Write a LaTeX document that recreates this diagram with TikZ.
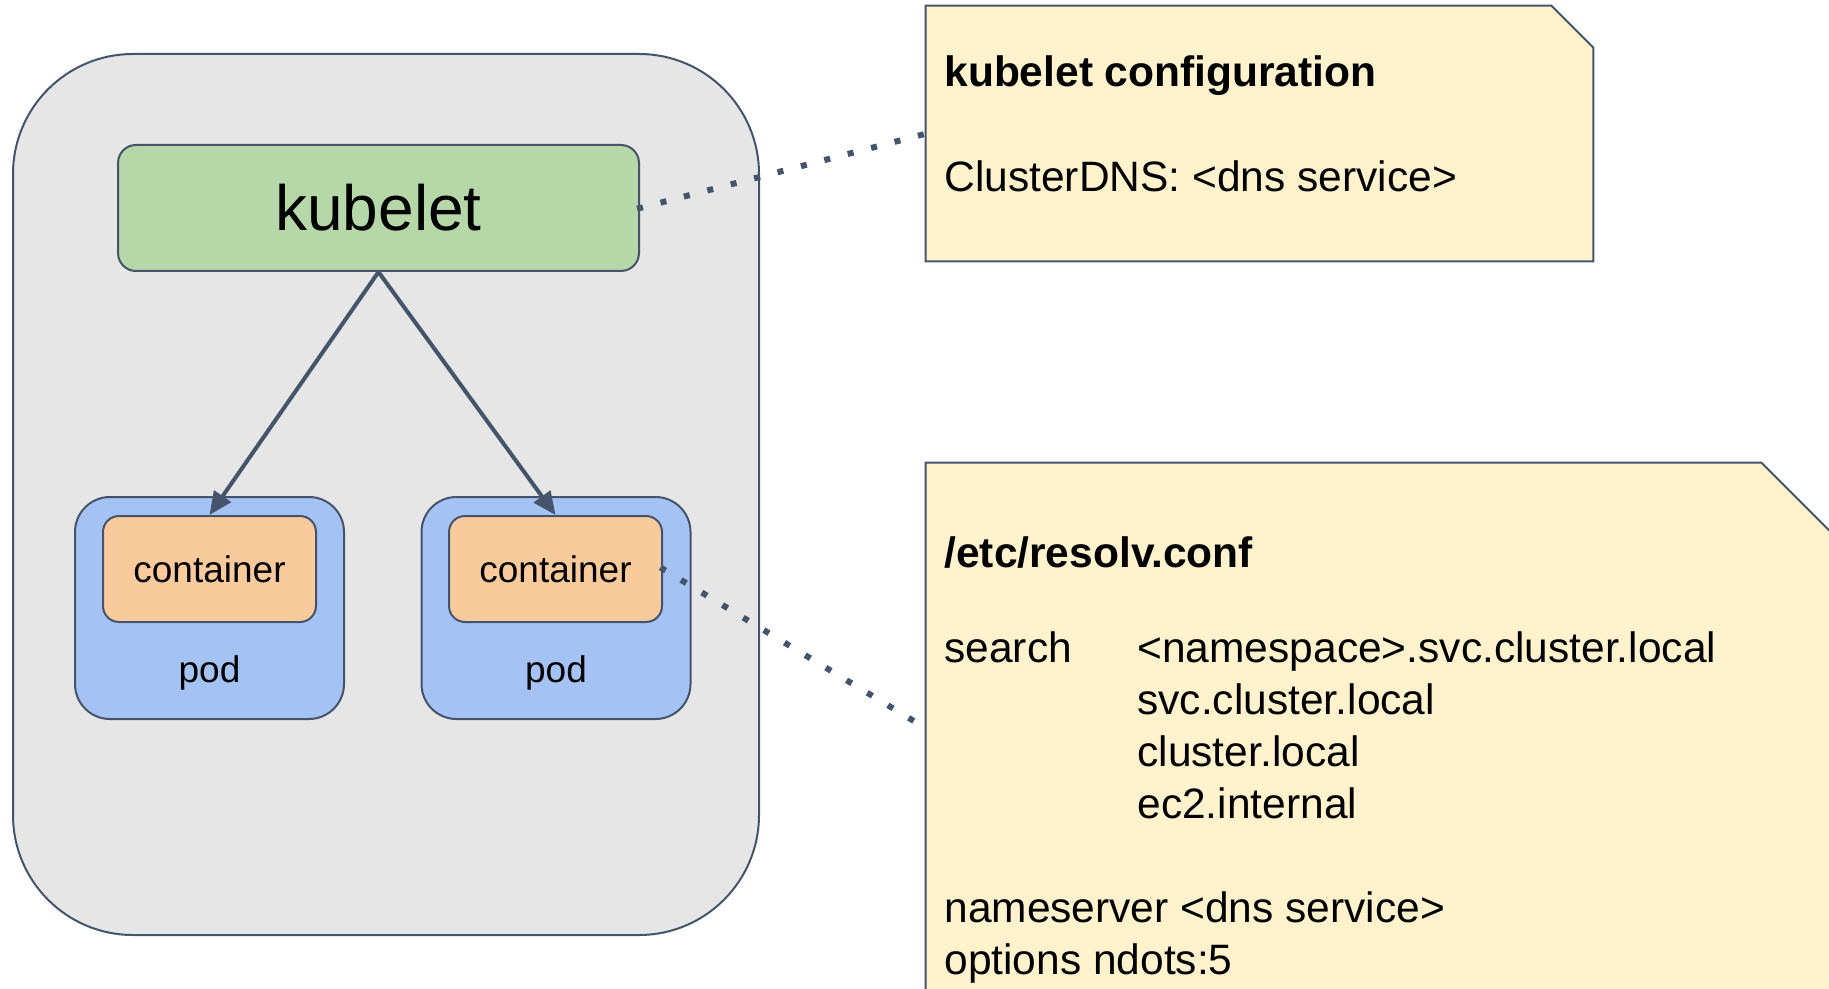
\documentclass[tikz,border=0pt]{standalone}
\usepackage{fontspec}
\setmainfont{Liberation Sans}
\usetikzlibrary{arrows.meta}

\definecolor{edgeslate}{HTML}{44546A}
\definecolor{hostgray}{HTML}{E6E6E6}
\definecolor{kubegreen}{HTML}{B6D7A8}
\definecolor{podblue}{HTML}{A4C2F4}
\definecolor{ctrorange}{HTML}{F9CB9C}
\definecolor{noteyellow}{HTML}{FFF2CC}

\begin{document}
\begin{tikzpicture}[
  x=0.5pt, y=-0.5pt,
  shapebase/.style={draw=edgeslate, line width=1pt, inner sep=0pt},
  hostshape/.style={shapebase, fill=hostgray, rounded corners=60pt,
    minimum width=373pt, minimum height=440.5pt},
  kubeshape/.style={shapebase, fill=kubegreen, rounded corners=9pt,
    minimum width=260.5pt, minimum height=63pt,
    font=\fontsize{32}{38}\selectfont, text height=22.9pt, text depth=0pt},
  podshape/.style={shapebase, fill=podblue, rounded corners=17.5pt,
    minimum width=134.5pt, minimum height=111pt},
  ctrshape/.style={shapebase, fill=ctrorange, rounded corners=8pt,
    minimum width=106.5pt, minimum height=53pt,
    font=\fontsize{18.5}{22}\selectfont, text height=13.2pt, text depth=0pt},
  podlabel/.style={font=\fontsize{18.5}{22}\selectfont, anchor=base, inner sep=0pt},
  noteanchor/.style={inner sep=0pt, draw=none, fill=none},
  noteframe/.style={draw=edgeslate, line width=1pt, fill=noteyellow, line join=miter},
  notetext/.style={font=\fontsize{21.25}{26}\selectfont, anchor=base west, inner sep=0pt},
  ownerlink/.style={draw=edgeslate, line width=2pt,
    -{Triangle[length=11.5pt,width=10pt]}},
  dotlink/.style={draw=edgeslate, line width=3pt, line cap=rect,
    dash pattern=on 0.01pt off 12.08pt}
]
\useasboundingbox (0,0) rectangle (1829,989);
\clip (0,0) rectangle (1829,989);

% node with kubelet and two pods
\node[hostshape] (host) at (386,494.5) {};
\node[kubeshape] (kubelet) at (378.5,208) {kubelet};

\node[podshape] (pod1) at (209.5,608) {};
\node[ctrshape] (ctr1) at (209.5,569) {container};
\node[podlabel] (podlbl1) at (209.5,682) {pod};

\node[podshape] (pod2) at (556,608) {};
\node[ctrshape] (ctr2) at (555.5,569) {container};
\node[podlabel] (podlbl2) at (556,682) {pod};

\draw[ownerlink] (kubelet.south) -- (ctr1.north);
\draw[ownerlink] (kubelet.south) -- (ctr2.north);

% kubelet configuration note
\node[noteanchor, minimum width=333.5pt, minimum height=127.5pt] (cfg) at (1259.5,133.5) {};
\path[noteframe] (cfg.south west) -- (cfg.north west)
  -- ([xshift=-21pt]cfg.north east) -- ([yshift=-21pt]cfg.north east)
  -- (cfg.south east) -- cycle;
\node[notetext, font=\fontsize{21.25}{26}\selectfont\bfseries] (cfgtitle) at (944,87) {kubelet configuration};
\node[notetext] (cfgdns) at (944,192) {ClusterDNS: <dns service>};

% resolv.conf note
\node[noteanchor, minimum width=487pt, minimum height=293.5pt] (resolv) at (1413,756.5) {};
\path[noteframe] (resolv.south west) -- (resolv.north west)
  -- ([xshift=-69.5pt]resolv.north east) -- ([yshift=-69.5pt]resolv.north east)
  -- (resolv.south east) -- cycle;
\node[notetext, font=\fontsize{21.25}{26}\selectfont\bfseries] (rtitle) at (944,567) {/etc/resolv.conf};
\node[notetext] (rsearch) at (944,662) {search};
\node[notetext] (rdom1) at (1137,662) {<namespace>.svc.cluster.local};
\node[notetext] (rdom2) at (1137,714) {svc.cluster.local};
\node[notetext] (rdom3) at (1137,766) {cluster.local};
\node[notetext] (rdom4) at (1137,818) {ec2.internal};
\node[notetext] (rns) at (944,922) {nameserver <dns service>};
\node[notetext] (ropt) at (944,974) {options ndots:5};

% dotted call-outs
\coordinate (cfgpin) at (923,134.5);
\coordinate (resolvpin) at (913,720.5);
\draw[dotlink] (kubelet.east) -- (cfgpin);
\draw[dotlink] (ctr2.east) -- (resolvpin);
\end{tikzpicture}
\end{document}
